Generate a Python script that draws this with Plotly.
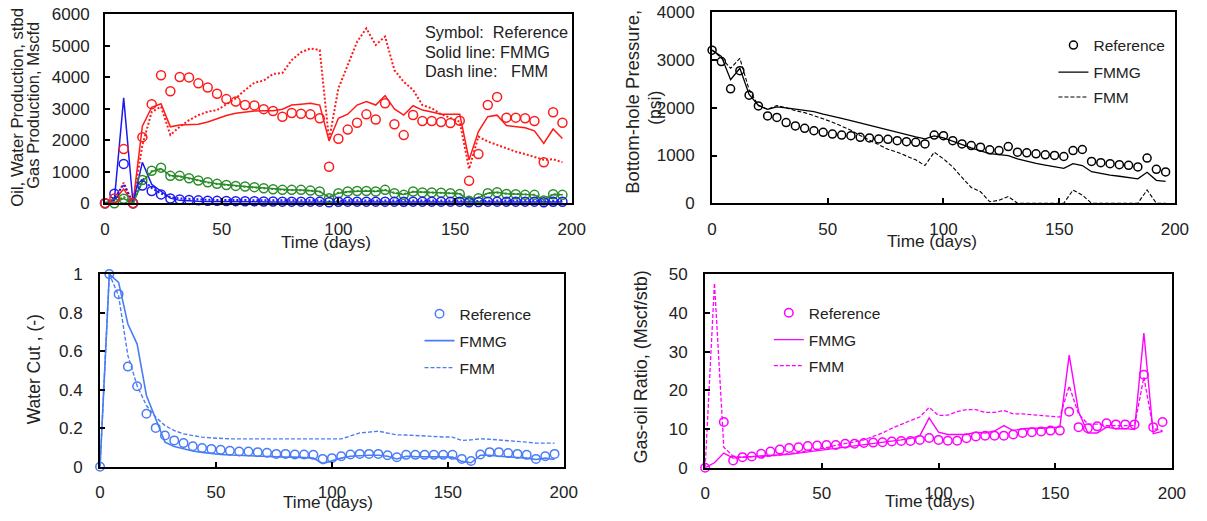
import plotly.graph_objects as go

W, H = 1207, 521
FONT = "Arial, Liberation Sans, sans-serif"

# ---------------- data ----------------
days = [0, 4, 8, 12, 16, 20, 24, 28, 32, 36, 40, 44, 48, 52, 56, 60, 64, 68, 72, 76,
        80, 84, 88, 92, 96, 100, 104, 108, 112, 116, 120, 124, 128, 132, 136, 140, 144, 148, 152, 156,
        160, 164, 168, 172, 176, 180, 184, 188, 192, 196]

# Panel 1: production (red = gas, blue = water, green = oil)
gas_ref = [0, 150, 1720, 0, 2100, 3150, 4070, 3560, 4010, 4000, 3810, 3680, 3480, 3310, 3230, 3120, 3110, 2990, 2930, 2750,
           2870, 2845, 2825, 2700, 1160, 2050, 2340, 2560, 2825, 2660, 3175, 2510, 2165, 2805, 2613, 2613, 2580, 2550, 2620, 710,
           1565, 3120, 3380, 2720, 2720, 2700, 2613, 1300, 2890, 2560]
gas_fmmg = [0, 100, 450, 0, 2450, 3050, 3160, 2430, 2490, 2500, 2510, 2580, 2680, 2790, 2860, 2900, 2930, 2940, 2940, 2990,
            3120, 3150, 3175, 3120, 1980, 2700, 2830, 3120, 3230, 3120, 3420, 3000, 2800, 3100, 2960, 2900, 2830, 2830, 2830, 1380,
            2280, 2750, 2800, 2470, 2440, 2400, 2300, 1900, 2360, 2060]
gas_fmm = [0, 100, 650, 0, 1850, 2900, 3070, 2170, 2430, 2640, 2800, 2910, 2960, 3140, 3330, 3600, 3830, 3900, 4110, 4140,
           4550, 4800, 4920, 4870, 2010, 3650, 4390, 5130, 5560, 5030, 5300, 4230, 3860, 3600, 3120, 3020, 2830, 2700, 2590, 1090,
           2120, 1960, 1850, 1750, 1640, 1560, 1480, 1380, 1400, 1300]
wat_ref = [0, 300, 1250, 0, 560, 390, 280, 150, 120, 105, 90, 80, 75, 70, 65, 60, 60, 55, 55, 50,
           50, 50, 50, 50, 30, 45, 50, 50, 50, 50, 50, 50, 45, 50, 50, 50, 50, 50, 50, 30,
           40, 50, 50, 50, 50, 50, 50, 30, 45, 45]
wat_fmmg = [0, 100, 3350, 0, 1300, 600, 380, 160, 90, 70, 60, 55, 50, 50, 45, 45, 45, 40, 40, 40,
            40, 40, 40, 40, 20, 35, 40, 40, 40, 40, 40, 40, 35, 40, 40, 40, 40, 40, 40, 20,
            30, 40, 40, 40, 40, 40, 40, 20, 35, 35]
wat_fmm = [0, 150, 600, 0, 800, 480, 310, 190, 150, 130, 120, 110, 105, 100, 100, 95, 95, 90, 90, 90,
           90, 90, 90, 90, 60, 80, 90, 90, 90, 90, 90, 90, 85, 90, 90, 90, 90, 90, 85, 60,
           75, 85, 85, 85, 85, 85, 85, 60, 80, 80]
oil_ref = [0, 0, 140, 0, 740, 1030, 1130, 870, 870, 795, 720, 665, 615, 580, 550, 530, 510, 475, 445, 425,
           425, 425, 400, 370, 160, 315, 370, 390, 390, 370, 425, 315, 265, 370, 340, 340, 335, 315, 295, 75,
           160, 315, 350, 295, 285, 265, 265, 85, 285, 265]
oil_fmmg = [0, 20, 150, 0, 680, 1000, 1100, 880, 860, 790, 725, 670, 620, 585, 555, 530, 505, 480, 450, 430,
            420, 420, 405, 375, 180, 320, 365, 385, 390, 375, 415, 320, 275, 365, 345, 340, 330, 315, 300, 90,
            170, 320, 345, 300, 285, 270, 265, 95, 280, 265]
oil_fmm = [0, 40, 200, 0, 700, 1020, 1080, 860, 850, 780, 715, 660, 610, 575, 545, 525, 500, 470, 445, 425,
           420, 415, 400, 370, 200, 330, 370, 390, 395, 380, 420, 330, 290, 370, 350, 340, 330, 320, 305, 110,
           180, 320, 340, 305, 290, 275, 270, 110, 285, 270]

# Panel 2: bottom-hole pressure
bhp_ref = [3210, 2970, 2400, 2780, 2265, 2040, 1830, 1800, 1690, 1620, 1570, 1520, 1486, 1451, 1430, 1416, 1382, 1370, 1347, 1340,
           1312, 1291, 1278, 1243, 1430, 1416, 1312, 1243, 1209, 1175, 1120, 1105, 1188, 1071, 1057, 1036, 1015, 1001, 980, 1105,
           1126, 877, 850, 829, 808, 794, 760, 946, 711, 656]
bhp_fmmg = [3210, 3080, 2590, 2830, 2280, 2050, 1970, 2020, 2000, 1975, 1950, 1920, 1870, 1830, 1780, 1730, 1680, 1630, 1590, 1540,
            1490, 1440, 1390, 1350, 1410, 1370, 1300, 1220, 1160, 1100, 1040, 1020, 1000, 930, 880, 835, 800, 765, 730, 830,
            790, 660, 620, 590, 565, 540, 510, 650, 480, 460]
bhp_fmm = [3210, 3050, 2830, 3040, 2380, 2050, 1970, 2050, 2000, 1940, 1900, 1840, 1770, 1700, 1620, 1530, 1420, 1320, 1220, 1130,
           1070, 990, 910, 790, 1070, 930, 760, 540, 330, 240, 30, 60, 140, 0, 0, 0, 0, 0, 0, 276,
           170, 0, 0, 0, 0, 0, 0, 276, 0, 0]

# Panel 3: water cut
wc_ref = [0, 1.0, 0.896, 0.52, 0.418, 0.275, 0.202, 0.162, 0.137, 0.123, 0.107, 0.098, 0.093, 0.088, 0.083, 0.079, 0.079, 0.076, 0.073, 0.067,
          0.067, 0.064, 0.064, 0.062, 0.041, 0.045, 0.055, 0.064, 0.067, 0.067, 0.067, 0.06, 0.05, 0.062, 0.062, 0.062, 0.062, 0.062, 0.062, 0.041,
          0.030, 0.064, 0.076, 0.076, 0.071, 0.067, 0.062, 0.041, 0.055, 0.067]
wc_fmmg = [0, 1.0, 0.957, 0.741, 0.637, 0.37, 0.249, 0.128, 0.105, 0.092, 0.082, 0.075, 0.068, 0.064, 0.061, 0.059, 0.057, 0.055, 0.053, 0.050,
           0.050, 0.050, 0.048, 0.045, 0.017, 0.033, 0.045, 0.055, 0.058, 0.060, 0.060, 0.055, 0.041, 0.055, 0.053, 0.052, 0.050, 0.050, 0.050, 0.028,
           0.021, 0.060, 0.060, 0.055, 0.050, 0.048, 0.045, 0.038, 0.045, 0.038]
wc_fmm = [0, 1.0, 0.888, 0.577, 0.421, 0.318, 0.258, 0.214, 0.188, 0.171, 0.162, 0.154, 0.150, 0.147, 0.145, 0.145, 0.145, 0.145, 0.145, 0.145,
          0.145, 0.146, 0.148, 0.148, 0.146, 0.145, 0.145, 0.160, 0.176, 0.180, 0.185, 0.175, 0.166, 0.165, 0.162, 0.160, 0.157, 0.155, 0.154, 0.137,
          0.140, 0.145, 0.143, 0.140, 0.137, 0.133, 0.128, 0.123, 0.123, 0.123]

# Panel 4: gas-oil ratio
gor_ref = [0, None, 11.8, 1.9, 2.75, 2.9, 3.6, 4.2, 4.7, 5.1, 5.3, 5.6, 5.75, 5.9, 5.9, 6.2, 6.2, 6.4, 6.5, 6.6,
           6.8, 6.9, 6.9, 7.2, 7.7, 7.2, 7.0, 7.0, 7.65, 8.1, 8.3, 8.3, 8.3, 8.6, 9.0, 9.2, 9.4, 9.6, 9.6, 14.5,
           10.5, 10.2, 10.7, 11.5, 11.2, 11.2, 11.2, 24.0, 10.5, 11.8]
gor_fmmg = [0, 1.3, 3.8, 2.5, 2.75, 2.9, 3.0, 3.1, 3.3, 3.5, 3.8, 4.1, 4.4, 4.7, 5.0, 5.4, 5.7, 6.0, 6.3, 6.6,
            6.9, 7.2, 7.6, 8.3, 12.9, 9.2, 8.6, 8.6, 8.6, 9.2, 9.0, 9.5, 10.9, 9.6, 10.1, 10.2, 10.2, 10.4, 10.5, 29.1,
            14.5, 9.0, 9.0, 10.5, 10.1, 10.1, 9.9, 34.8, 8.8, 9.4]
gor_fmm = [0, 47.7, 5.3, 3.0, 2.75, 2.8, 2.9, 3.0, 3.3, 3.6, 4.0, 4.4, 4.8, 5.2, 5.8, 6.2, 6.7, 7.2, 8.1, 9.0,
           10.2, 11.3, 12.2, 13.1, 15.6, 13.5, 13.6, 14.5, 15.0, 15.0, 14.3, 14.3, 14.8, 13.9, 13.9, 13.7, 13.5, 13.3, 13.1, 21.1,
           13.9, 11.3, 11.3, 10.9, 10.9, 10.9, 10.9, 23.4, 10.1, 9.6]

x_ticks = [0, 50, 100, 150, 200]

# ---------------- styles ----------------
RED = "#FF1A1A"
BLUE = "#1A1AF0"
GREEN = "#2A8C2A"
LBLUE = "#4A7DF5"
MAG = "#FF00FF"
BLK = "#000000"
TXT = "#222222"

# The captured picture maps figure pixel f to picture pixel 2.5 + 0.989 f (x)
# and 9.5 + 0.965 f (y); positions below are picture pixels converted back.
SX, OX, SY, OY = 0.989, 2.5, 0.965, 9.5


def fx(p):
    return ((p - OX) / SX) / W


def fy(p):
    return 1 - ((p - OY) / SY) / H


def fdx(d):
    return d / SX


fig = go.Figure()


def circles(y, color, xa, ya, name="Reference", legend=None, size=9):
    fig.add_trace(go.Scatter(
        x=days, y=y, mode="markers", name=name, xaxis=xa, yaxis=ya,
        marker=dict(symbol="circle-open", size=size, color=color, line=dict(width=1.5, color=color)),
        cliponaxis=False, showlegend=legend is not None, legend=legend or "legend"))


def line(y, color, xa, ya, dash, name, legend=None, width=1.5):
    fig.add_trace(go.Scatter(
        x=days, y=y, mode="lines", name=name, xaxis=xa, yaxis=ya,
        line=dict(color=color, width=width, dash=dash), cliponaxis=False,
        showlegend=legend is not None, legend=legend or "legend"))


# Panel 1
line(gas_fmm, RED, "x", "y", "2px,2px", "FMM", width=2)
line(wat_fmm, BLUE, "x", "y", "2px,2px", "FMM", width=2)
line(oil_fmm, GREEN, "x", "y", "2px,2px", "FMM", width=2)
line(gas_fmmg, RED, "x", "y", "solid", "FMMG")
line(wat_fmmg, BLUE, "x", "y", "solid", "FMMG")
line(oil_fmmg, GREEN, "x", "y", "solid", "FMMG")
circles(oil_ref, GREEN, "x", "y")
circles(wat_ref, BLUE, "x", "y")
circles(gas_ref, RED, "x", "y")

# Panel 2
circles(bhp_ref, BLK, "x2", "y2", legend="legend2", size=8)
line(bhp_fmmg, BLK, "x2", "y2", "solid", "FMMG", legend="legend3", width=1.3)
line(bhp_fmm, BLK, "x2", "y2", "4px,2px", "FMM", legend="legend4", width=1.1)

# Panel 3
circles(wc_ref, LBLUE, "x3", "y3", legend="legend5", size=8.5)
line(wc_fmmg, LBLUE, "x3", "y3", "solid", "FMMG", legend="legend6", width=1.6)
line(wc_fmm, LBLUE, "x3", "y3", "4px,2px", "FMM", legend="legend7", width=1.4)

# Panel 4
circles(gor_ref, MAG, "x4", "y4", legend="legend8", size=8.5)
line(gor_fmmg, MAG, "x4", "y4", "solid", "FMMG", legend="legend9", width=1.4)
line(gor_fmm, MAG, "x4", "y4", "4px,2px", "FMM", legend="legend10", width=1.3)

axis_common = dict(showline=True, mirror=True, linecolor="black", linewidth=2,
                   ticks="inside", ticklen=5, tickwidth=1.5, tickcolor="black",
                   showgrid=False, zeroline=False, fixedrange=True,
                   tickfont=dict(family=FONT, size=17, color=TXT))

panels = {
    # panel: (left, right, top, bottom) in picture pixels
    1: (103, 572, 15, 204),
    2: (713, 1178, 13, 204),
    3: (98, 564, 275, 468),
    4: (706, 1175, 275, 469),
}
yranges = {1: (0, 6000, 1000), 2: (0, 4000, 1000), 3: (0, 1, 0.2), 4: (0, 50, 10)}
ystand = {1: 10, 2: 12, 3: 12, 4: 12}

lay = {}
for k, (l, r, t, b) in panels.items():
    sx = "" if k == 1 else str(k)
    lay["xaxis" + sx] = dict(axis_common, domain=[fx(l), fx(r)], anchor="y" + sx,
                             range=[0, 200], tickvals=x_ticks, ticklabelstandoff=9)
    y0, y1, dt = yranges[k]
    lay["yaxis" + sx] = dict(axis_common, domain=[fy(b), fy(t)], anchor="x" + sx,
                             range=[y0, y1], dtick=dt, tick0=0, ticklabelstandoff=ystand[k])

fig.update_layout(**lay)

legend_common = dict(bgcolor="rgba(0,0,0,0)", borderwidth=0, xanchor="left", yanchor="top",
                     font=dict(family=FONT, size=15.5, color=TXT))
# legend rows: (legend name, text left x, row centre y) in picture pixels
legend_rows = [
    ("legend2", 1095, 45), ("legend3", 1095, 72), ("legend4", 1095, 97),
    ("legend5", 458, 314), ("legend6", 458, 341), ("legend7", 458, 368),
    ("legend8", 809, 313), ("legend9", 809, 340), ("legend10", 809, 366),
]
leg = {}
for name, tx, ty in legend_rows:
    leg[name] = dict(legend_common,
                     x=fx(tx) - fdx(39) / W,
                     y=fy(ty) + (16.5 / H))

fig.update_layout(
    width=W, height=H, margin=dict(l=0, r=0, t=0, b=0), autosize=False,
    paper_bgcolor="white", plot_bgcolor="white", showlegend=True,
    legend=dict(legend_common, x=0.0, y=0.0, visible=False),
    **leg,
)

ann = []


def text(s, x, y, size=15, angle=0, xanchor="center"):
    ann.append(dict(text=s, x=fx(x), y=fy(y), xref="paper", yref="paper",
                    showarrow=False, textangle=angle, xanchor=xanchor, yanchor="middle",
                    font=dict(family=FONT, size=size, color=TXT)))


# y-axis titles
text("Oil, Water Production, stbd", 15, 108, size=16.7, angle=-90)
text("Gas Production, Mscfd", 31, 106, size=16.5, angle=-90)
text("Bottom-hole Pressure,", 633, 102, size=18.5, angle=-90)
text("(psi)", 656, 108, size=17.5, angle=-90)
text("Water Cut , (-)", 32, 370, size=17.5, angle=-90)
text("Gas-oil Ratio, (Mscf/stb)", 642, 368, size=18, angle=-90)
# x-axis titles
for cx, cy in [(325, 243), (934, 242), (327, 503), (932, 502)]:
    text("Time (days)", cx, cy, size=17.2)
# panel 1 key
text("Symbol:\u00a0\u00a0Reference", 423, 33, size=16.3, xanchor="left")
text("Solid line: FMMG", 423, 53, size=16.3, xanchor="left")
text("Dash line:\u00a0\u00a0\u00a0FMM", 423, 72, size=16.3, xanchor="left")

fig.update_layout(annotations=ann)

fig.write_html("out.html")
